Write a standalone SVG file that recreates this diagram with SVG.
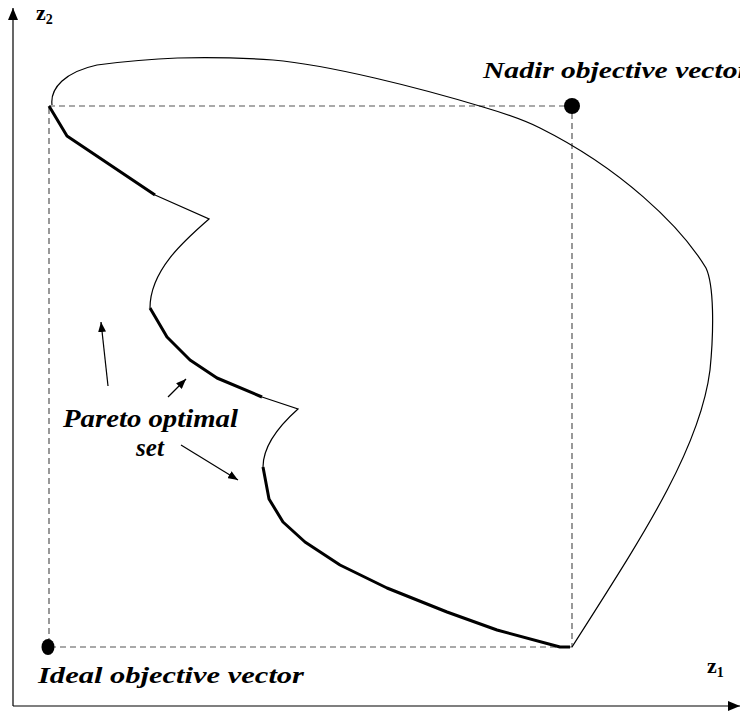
<svg xmlns="http://www.w3.org/2000/svg" width="740" height="711" viewBox="0 0 740 711">
<style>
.thin{fill:none;stroke:#000;stroke-width:1.2}
.thick{fill:none;stroke:#000;stroke-width:3;stroke-linejoin:round}
.dash{fill:none;stroke:#555;stroke-width:1.2;stroke-dasharray:6,4}
.lbl{font-family:"Liberation Serif",serif;font-weight:bold;font-style:italic;fill:#000}
.ax{font-family:"Liberation Serif",serif;font-weight:bold;fill:#000}
.arr{stroke:#000;stroke-width:1.2;fill:none}
</style>
<defs>
<marker id="ah" markerWidth="10" markerHeight="8" refX="10" refY="4" orient="auto" markerUnits="userSpaceOnUse"><path d="M0,0 L10,4 L0,8 Z" fill="#000"/></marker>
<marker id="axh" markerWidth="12" markerHeight="10" refX="12" refY="5" orient="auto" markerUnits="userSpaceOnUse"><path d="M0,0 L12,5 L0,10 Z" fill="#000"/></marker>
</defs>
<g id="axes">
<line class="arr" x1="13" y1="706" x2="13" y2="8" marker-end="url(#axh)"/>
<line class="arr" x1="13" y1="706" x2="740" y2="706" marker-end="url(#axh)"/>
<text class="ax" x="36" y="20" font-size="22">z<tspan font-size="14" dy="4">2</tspan></text>
<text class="ax" x="707" y="673" font-size="22">z<tspan font-size="14" dy="4">1</tspan></text>
</g>
<g id="bounds">
<path class="dash" d="M49,106 H572 V647 H49 Z"/>
</g>
<g id="region">
<path class="thin" d="M52,105 C50,88 65,72 97,65 C150,58 200,55 273,60 C330,65 420,88 483,107 C500,112 520,118 540,128 C620,168 680,225 706,268 C714,285 714,330 710,370 C700,450 640,540 572,647"/>
<path class="thin" d="M155,195 L209,219 C185,240 150,270 150,308"/>
<path class="thin" d="M262,397 L298,409 C280,425 263,445 263,467"/>
</g>
<g id="pareto">
<path class="thick" d="M49,106 L67,136 L155,195"/>
<path class="thick" d="M150,308 L167,337 L190,360 L217,378 L262,397"/>
<path class="thick" d="M263,467 L269,499 L283,522 L305,542 L340,565 L387,588 L447,612 L497,630 L560,647 L570,647"/>
</g>
<g id="ideal">
<ellipse cx="48" cy="647" rx="6.5" ry="8" fill="#000"/>
<text class="lbl" x="38" y="683" font-size="23" textLength="266" lengthAdjust="spacingAndGlyphs">Ideal objective vector</text>
</g>
<g id="nadir">
<circle cx="572" cy="106" r="8" fill="#000"/>
<text class="lbl" x="483" y="78" font-size="23" textLength="266" lengthAdjust="spacingAndGlyphs">Nadir objective vector</text>
</g>
<g id="label">
<text class="lbl" x="63" y="427" font-size="25" textLength="175" lengthAdjust="spacingAndGlyphs">Pareto optimal</text>
<text class="lbl" x="150" y="456" font-size="25" text-anchor="middle">set</text>
</g>
<g id="connectors">
<line class="arr" x1="108" y1="386" x2="101" y2="322" marker-end="url(#ah)"/>
<line class="arr" x1="168" y1="397" x2="186" y2="379" marker-end="url(#ah)"/>
<line class="arr" x1="181" y1="445" x2="238" y2="480" marker-end="url(#ah)"/>
</g>
</svg>
